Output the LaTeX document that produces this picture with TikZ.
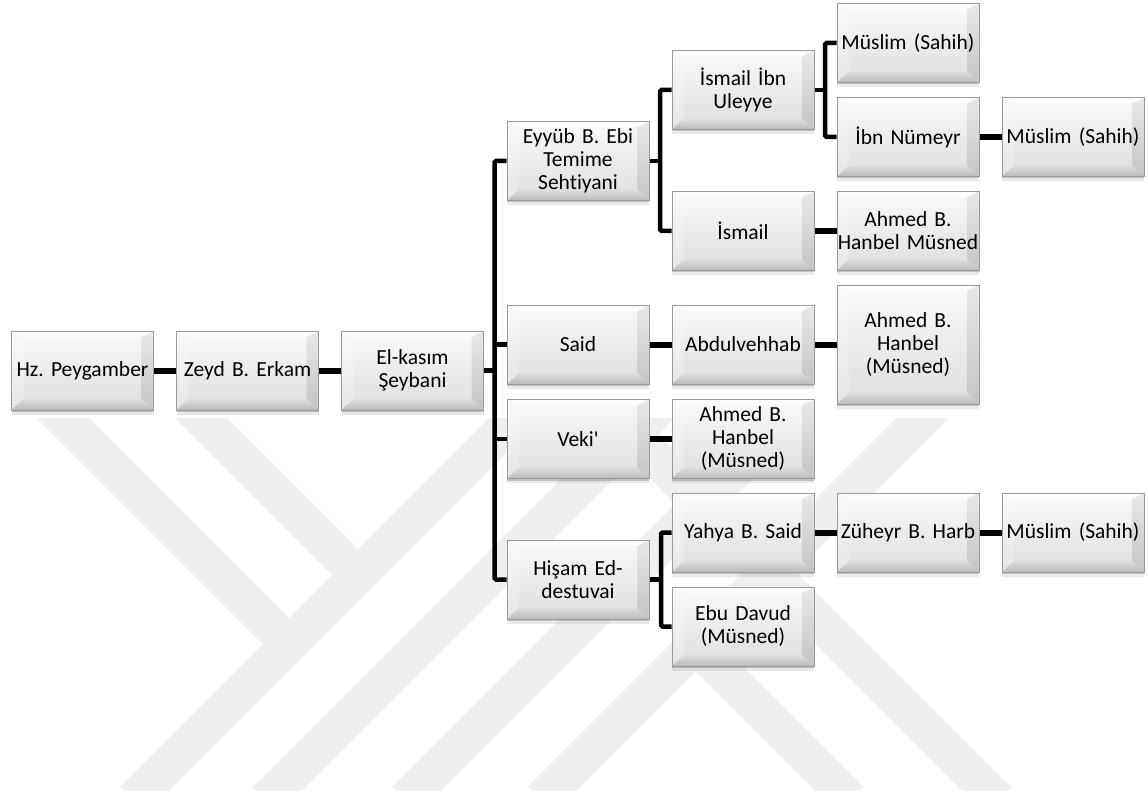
\documentclass[tikz,border=0pt]{standalone}
\usepackage{fontspec}
\setmainfont{Carlito}[Ligatures={NoCommon}]
\usetikzlibrary{shadows,calc}
\definecolor{wmgray}{HTML}{EFEFEF}
\definecolor{edgegray}{HTML}{9A9A9A}
\pgfdeclarelayer{wm}
\pgfdeclarelayer{conn}
\pgfsetlayers{wm,conn,main}
\newcommand\bevelpic{%
  \path (path picture bounding box.north west) coordinate (bnw)
        (path picture bounding box.north east) coordinate (bne)
        (path picture bounding box.south west) coordinate (bsw)
        (path picture bounding box.south east) coordinate (bse);
  \coordinate (inw) at ($(bnw)+(12pt,-6pt)$);
  \coordinate (ine) at ($(bne)+(-12pt,-6pt)$);
  \coordinate (isw) at ($(bsw)+(12pt,11pt)$);
  \coordinate (ise) at ($(bse)+(-12pt,11pt)$);
  \fill[black!1] (bnw) -- (bne) -- (ine) -- (inw) -- cycle;
  \shade[top color=black!2, bottom color=black!10] (bnw) -- (inw) -- (isw) -- (bsw) -- cycle;
  \shade[top color=black!9, bottom color=black!23] (bne) -- (bse) -- (ise) -- (ine) -- cycle;
  \shade[top color=black!13, bottom color=black!27] (bsw) -- (isw) -- (ise) -- (bse) -- cycle;
}
\tikzset{
  box/.style={draw=edgegray, line width=.7pt,
    top color=black!2, bottom color=black!13,
    path picture={\bevelpic},
    minimum width=142pt, minimum height=79pt, text width=150pt, inner sep=-4pt,
    align=center, font=\fontsize{21.5pt}{23pt}\selectfont\frenchspacing, text=black,
    drop shadow={shadow xshift=0pt, shadow yshift=-2pt, opacity=.25, fill=black!70},
    drop shadow={shadow xshift=0pt, shadow yshift=-4.5pt, opacity=.12, fill=black!70}},
  tallbox/.style={box, minimum height=119pt},
  link/.style={line width=6pt, black},
  brk/.style={line width=4.5pt, black, rounded corners=1.5pt},
  wmband/.style={line width=37pt, wmgray}
}
\begin{document}
\begin{tikzpicture}[x=1pt,y=-1pt]
\useasboundingbox (0,0) rectangle (1148,794);
\begin{pgfonlayer}{wm}
\fill[white] (0,0) rectangle (1148,794);
\begin{scope}
\clip (0,418) rectangle (1148,790);
\draw[wmband] (133.5,800) -- (533.5,400);
\draw[wmband] (266,800) -- (666,400);
\draw[wmband] (405.5,800) -- (805.5,400);
\draw[wmband] (541,800) -- (941,400);
\draw[wmband] (45,400) -- (289.25,644.25);
\draw[wmband] (183,400) -- (358.25,575.25);
\draw[wmband] (598,400) -- (998,800);
\draw[wmband] (695.5,645.5) -- (850,800);
\end{scope}
\end{pgfonlayer}

% column 1-3
\node[box] (hz) at (82.5,370.5) {Hz. Peygamber};
\node[box] (zeyd) at (247.5,370.5) {Zeyd B. Erkam};
\node[box] (elk) at (412.5,370.5) {El-kasım\\Şeybani};
% column 4
\node[box] (eyyub) at (578,161) {Eyyüb B. Ebi\\Temime\\Sehtiyani};
\node[box] (said) at (578,344.5) {Said};
\node[box] (veki) at (578,439) {Veki\textquotesingle};
\node[box] (hisam) at (578,579.5) {Hişam Ed-\\destuvai};
% column 5
\node[box] (ismibn) at (743,90) {İsmail İbn\\Uleyye};
\node[box] (ismail) at (743,231) {İsmail};
\node[box] (abdul) at (743,344.5) {Abdulvehhab};
\node[box] (ahmedb) at (743,439) {Ahmed B.\\Hanbel\\(Müsned)};
\node[box] (yahya) at (743,532.5) {Yahya B. Said};
\node[box] (ebud) at (743,626.5) {Ebu Davud\\(Müsned)};
% column 6
\node[box] (muslima) at (908,43) {Müslim (Sahih)};
\node[box] (ibnnum) at (908,137) {İbn Nümeyr};
\node[box] (ahmedm) at (908,231) {Ahmed B.\\Hanbel Müsned};
\node[tallbox] (ahmedc) at (908,344.5) {Ahmed B.\\Hanbel\\(Müsned)};
\node[box] (zuheyr) at (908,532.5) {Züheyr B. Harb};
% column 7
\node[box] (muslimb) at (1073,137) {Müslim (Sahih)};
\node[box] (muslimc) at (1073,532.5) {Müslim (Sahih)};

\coordinate (tk) at (494.5,370.5);
\coordinate (ka) at (660,161);
\coordinate (kb) at (825,90);
\coordinate (kc) at (661,579.5);

\begin{pgfonlayer}{conn}
\draw[link] (hz) -- (zeyd);
\draw[link] (zeyd) -- (elk);
\draw[brk] (elk.east) -- (tk);
\draw[brk] (eyyub.west) -| (tk |- hisam.west) -- (hisam.west);
\draw[brk] (said.west) -- (said.west -| tk);
\draw[brk] (veki.west) -- (veki.west -| tk);
\draw[brk] (eyyub.east) -- (ka);
\draw[brk] (ismibn.west) -| (ka |- ismail.west) -- (ismail.west);
\draw[brk] (ismibn.east) -- (kb);
\draw[brk] (muslima.west) -| (kb |- ibnnum.west) -- (ibnnum.west);
\draw[brk] (hisam.east) -- (kc);
\draw[brk] (yahya.west) -| (kc |- ebud.west) -- (ebud.west);
\draw[link] (ismail) -- (ahmedm);
\draw[link] (ibnnum) -- (muslimb);
\draw[link] (said) -- (abdul);
\draw[link] (abdul) -- (ahmedc);
\draw[link] (veki) -- (ahmedb);
\draw[link] (yahya) -- (zuheyr);
\draw[link] (zuheyr) -- (muslimc);
\end{pgfonlayer}
\end{tikzpicture}
\end{document}
